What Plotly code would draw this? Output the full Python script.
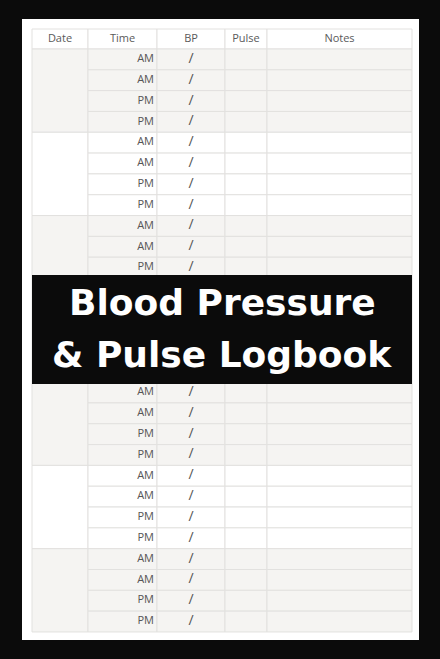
import plotly.graph_objects as go

headers = ["Date", "Time", "BP", "Pulse", "Notes"]
col_edges = [32, 88, 157, 225, 267, 412]
times = ["AM", "AM", "PM", "PM"]
bp_mark = "/"
n_days = 7
title_lines = ["Blood Pressure", "& Pulse Logbook"]

top, head_h, row_h = 29, 20, 20.82
shade = "#f5f4f2"
line = "#e2e1df"

fig = go.Figure()
shapes = []
# page
shapes.append(dict(type="rect", x0=22, x1=419, y0=19, y1=640, fillcolor="white", line_width=0, layer="below"))
# header cells
for i in range(5):
    shapes.append(dict(type="rect", x0=col_edges[i], x1=col_edges[i + 1], y0=top, y1=top + head_h,
                       fillcolor="white", line=dict(color=line, width=1), layer="below"))
row_x, row_y, row_t = [], [], []
bp_x, bp_y = [], []
for d in range(n_days):
    fill = shade if d % 2 == 0 else "white"
    g0 = top + head_h + d * 4 * row_h
    shapes.append(dict(type="rect", x0=col_edges[0], x1=col_edges[1], y0=g0, y1=g0 + 4 * row_h,
                       fillcolor=fill, line=dict(color=line, width=1), layer="below"))
    for r, t in enumerate(times):
        y0 = g0 + r * row_h
        for i in range(1, 5):
            shapes.append(dict(type="rect", x0=col_edges[i], x1=col_edges[i + 1], y0=y0, y1=y0 + row_h,
                               fillcolor=fill, line=dict(color=line, width=1), layer="below"))
        row_x.append(col_edges[2] - 3)
        row_y.append(y0 + row_h / 2)
        row_t.append(t)
        bp_x.append((col_edges[2] + col_edges[3]) / 2)
        bp_y.append(y0 + row_h / 2)
# title band (above the row texts)
shapes.append(dict(type="rect", x0=32, x1=412, y0=275, y1=384, fillcolor="#0b0b0b", line_width=0, layer="above"))

fig.add_trace(go.Scatter(x=[(col_edges[i] + col_edges[i + 1]) / 2 for i in range(5)],
                         y=[top + head_h / 2] * 5, text=headers, mode="text",
                         textfont=dict(family="Open Sans", size=11, color="#5a5a5a")))
fig.add_trace(go.Scatter(x=row_x, y=row_y, text=row_t, mode="text", textposition="middle left",
                         textfont=dict(family="Open Sans", size=11, color="#555")))
fig.add_trace(go.Scatter(x=bp_x, y=bp_y, text=[bp_mark] * len(bp_x), mode="text",
                         textfont=dict(family="Open Sans", size=14, color="#555")))

annotations = [dict(x=222, y=y, text=t, showarrow=False, xref="x", yref="y",
                    font=dict(family="DejaVu Sans", size=36, color="white", weight="bold"))
               for t, y in zip(title_lines, [302, 354])]

fig.update_layout(width=440, height=659, margin=dict(l=0, r=0, t=0, b=0),
                  paper_bgcolor="#0b0b0b", plot_bgcolor="#0b0b0b", showlegend=False,
                  shapes=shapes, annotations=annotations,
                  xaxis=dict(range=[0, 440], visible=False, fixedrange=True),
                  yaxis=dict(range=[659, 0], visible=False, fixedrange=True))
fig.write_html("out.html", config={"displayModeBar": False})

# drop the default body margin so the figure fills the window
with open("out.html") as f:
    page = f.read()
page = page.replace("<head>", "<head><style>body{margin:0;background:#0b0b0b;}</style>", 1)
with open("out.html", "w") as f:
    f.write(page)
